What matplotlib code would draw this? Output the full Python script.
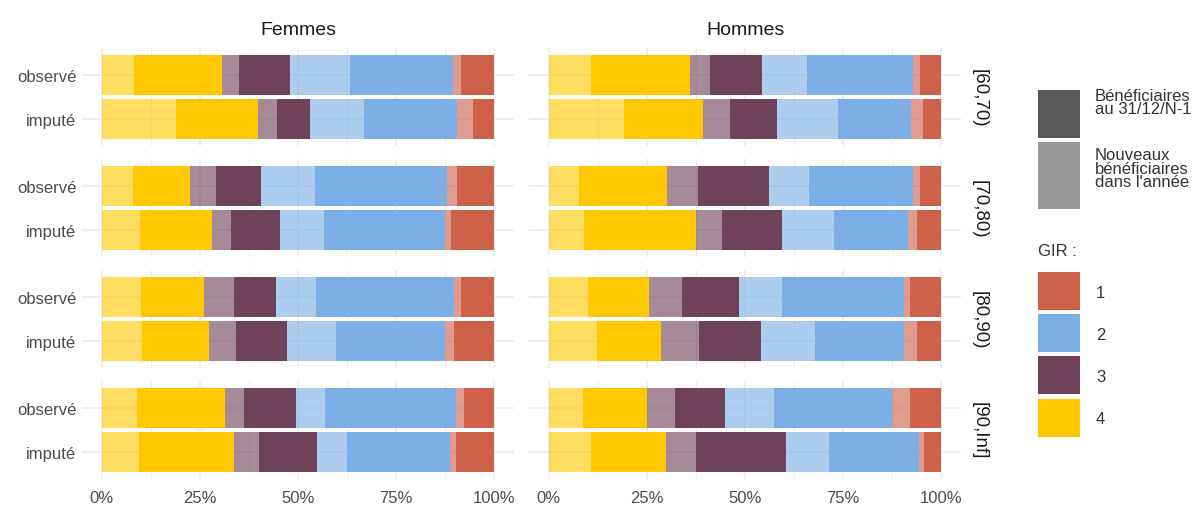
import numpy as np
import matplotlib.pyplot as plt
from matplotlib.patches import Rectangle

plt.rcParams['font.family'] = ['Liberation Sans', 'DejaVu Sans']

# categories
sexes = ['Femmes', 'Hommes']
ages = ['[60,70)', '[70,80)', '[80,90)', '[90,Inf]']
sources = ['observé', 'imputé']
girs = ['4', '3', '2', '1']

# shares in % : for each GIR (4,3,2,1) -> [nouveaux, anciens]
femmes_obs = [[8.2, 22.5, 4.2, 13.0, 15.3, 26.3, 2.0, 8.5],
              [8.1, 14.4, 6.6, 11.6, 13.7, 33.5, 2.7, 9.4],
              [9.9, 16.1, 7.8, 10.6, 10.3, 34.9, 2.0, 8.4],
              [8.9, 22.6, 4.7, 13.4, 7.3, 33.3, 2.1, 7.7]]
femmes_imp = [[19.0, 20.8, 4.8, 8.5, 13.8, 23.7, 4.0, 5.4],
              [9.8, 18.3, 4.8, 12.6, 11.2, 30.8, 1.5, 11.0],
              [10.4, 17.0, 6.9, 12.9, 12.6, 27.6, 2.3, 10.3],
              [9.6, 24.2, 6.2, 14.9, 7.6, 26.3, 1.5, 9.7]]
hommes_obs = [[10.7, 25.3, 5.1, 13.2, 11.5, 27.1, 1.7, 5.4],
              [7.7, 22.4, 8.0, 18.1, 10.1, 26.4, 1.8, 5.5],
              [9.9, 15.7, 8.3, 14.6, 10.9, 31.0, 1.7, 7.9],
              [8.7, 16.3, 7.1, 12.7, 12.6, 30.1, 4.4, 8.1]]
hommes_imp = [[19.2, 20.1, 7.0, 11.9, 15.4, 18.7, 2.9, 4.8],
              [9.0, 28.4, 6.8, 15.1, 13.3, 18.9, 2.3, 6.2],
              [12.2, 16.3, 9.7, 16.0, 13.7, 22.7, 3.3, 6.1],
              [10.9, 18.9, 7.8, 22.9, 11.0, 22.9, 1.3, 4.3]]

data = {'Femmes': (femmes_obs, femmes_imp), 'Hommes': (hommes_obs, hommes_imp)}

gir_colors = {'4': '#FFC800', '3': '#6E4259', '2': '#7BAFE6', '1': '#CD614A'}
light_alpha = 0.62

W, H = 1193, 506
fig = plt.figure(figsize=(W / 100, H / 100), dpi=100)

panel_x = [82, 529]
panel_w = 432
panel_top = [49, 160, 271, 382]
panel_h = 98
grid_col = '#EBEBEB'
txt_col = '#4D4D4D'

for j, sexe in enumerate(sexes):
    obs, imp = data[sexe]
    for i, age in enumerate(ages):
        ax = fig.add_axes([panel_x[j] / W, 1 - (panel_top[i] + panel_h) / H,
                           panel_w / W, panel_h / H])
        ax.set_xlim(-5, 105)
        ax.set_ylim(1.6, -0.6)
        for k, vals in enumerate([obs[i], imp[i]]):
            vals = np.array(vals)
            vals = vals / vals.sum() * 100
            left = 0
            for g in range(4):
                col = gir_colors[girs[g]]
                w_new, w_old = vals[2 * g], vals[2 * g + 1]
                ax.barh(k, w_new, left=left, height=0.9, color=col,
                        alpha=light_alpha, lw=0, zorder=2)
                left += w_new
                ax.barh(k, w_old, left=left, height=0.9, color=col,
                        lw=0, zorder=2)
                left += w_old
        ax.set_xticks([0, 25, 50, 75, 100])
        ax.set_xticks([12.5, 37.5, 62.5, 87.5], minor=True)
        ax.grid(True, which='major', color=grid_col, lw=1.1, zorder=0)
        ax.grid(True, which='minor', axis='x', color=grid_col, lw=0.6, zorder=0)
        ax.set_axisbelow(True)
        ax.set_yticks([0, 1])
        for s in ax.spines.values():
            s.set_visible(False)
        ax.tick_params(axis='y', length=0, labelsize=12, labelcolor=txt_col, pad=4)
        ax.tick_params(axis='x', which='both', length=0, labelsize=12,
                       labelcolor=txt_col, pad=8)
        if j == 0:
            ax.set_yticklabels(sources)
        else:
            ax.set_yticklabels([])
        if i == 3:
            ax.set_xticklabels(['0%', '25%', '50%', '75%', '100%'])
        else:
            ax.set_xticklabels([])
        if i == 0:
            ax.set_title(sexe, fontsize=14, color='#1A1A1A', pad=10)
        if j == 1:
            ax.text(1.022, 0.5, age, transform=ax.transAxes, rotation=-90,
                    ha='left', va='center', fontsize=13.5, color='#1A1A1A')

# legend drawn in pixel space
lg = fig.add_axes([0, 0, 1, 1])
lg.set_xlim(0, W)
lg.set_ylim(H, 0)
lg.axis('off')
kx, kw = 1038, 42
lg.add_patch(Rectangle((kx, 91), kw, 48, color='#595959', lw=0))
lg.add_patch(Rectangle((kx, 143), kw, 67, color='#999999', lw=0))
lg.text(1095, 103, 'Bénéficiaires\nau 31/12/N-1', fontsize=12, color='#333333',
        va='center', ha='left', linespacing=0.9)
lg.text(1095, 169, 'Nouveaux\nbénéficiaires\ndans l\'année', fontsize=12,
        color='#333333', va='center', ha='left', linespacing=0.9)
lg.text(kx, 252, 'GIR :', fontsize=12, color='#333333', va='center', ha='left')
key_tops = [273, 315, 357, 400]
for lab, top in zip(['1', '2', '3', '4'], key_tops):
    lg.add_patch(Rectangle((kx, top), kw, 38, color=gir_colors[lab], lw=0))
    lg.text(1096, top + 20, lab, fontsize=12, color='#333333', va='center', ha='left')

fig.savefig('out.png', dpi=100)
